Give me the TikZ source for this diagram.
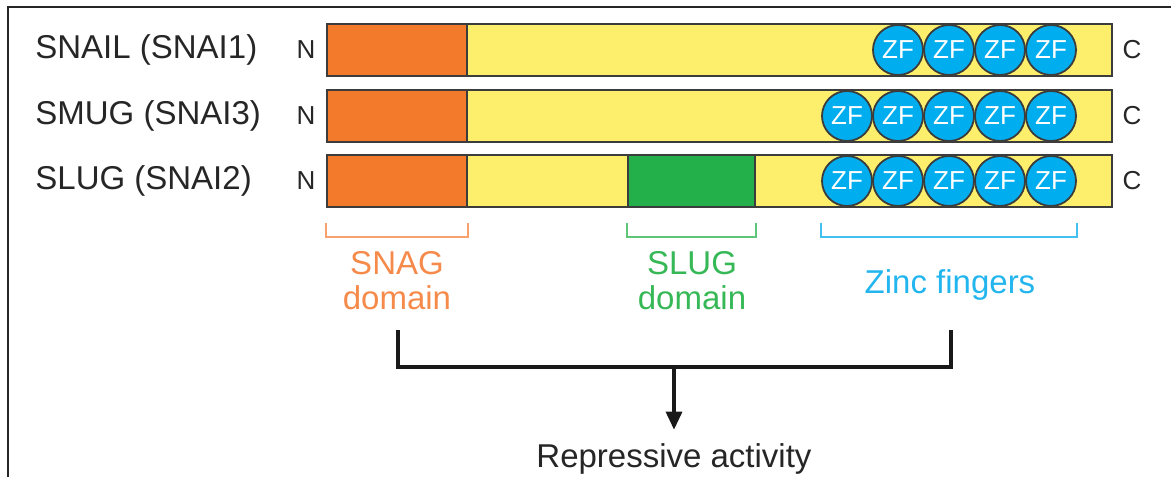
\documentclass[tikz,border=0pt]{standalone}
\usepackage{fontspec}
\setmainfont{Liberation Sans}
\usepackage{xcolor}
\usetikzlibrary{positioning,shapes,arrows.meta,calc}

\definecolor{snagorange}{HTML}{F37A2B}
\definecolor{baryellow}{HTML}{FDEF6C}
\definecolor{sluggreen}{HTML}{23B04B}
\definecolor{zfblue}{HTML}{00AEEF}
\definecolor{linegray}{HTML}{3C3C3C}
\definecolor{txtgray}{HTML}{262626}
\definecolor{snagtext}{HTML}{F58A4A}
\definecolor{slugtext}{HTML}{37B857}
\definecolor{zinctext}{HTML}{22B5EE}

\begin{document}
\begin{tikzpicture}
            [x=0.5pt,y=-0.5pt,every node/.style={inner sep=0pt, text=txtgray},
             bar/.style={draw=linegray, line width=0.9pt, fill=baryellow, minimum width=392.5pt, minimum height=26pt},
             snag/.style={draw=linegray, line width=0.9pt, fill=snagorange, minimum width=70pt, minimum height=26pt, anchor=west},
             slug/.style={draw=linegray, line width=0.9pt, fill=sluggreen, minimum width=63.5pt, minimum height=26pt, anchor=west},
             zf/.style={circle, draw=linegray, line width=0.9pt, fill=zfblue, minimum size=25pt, text=white, font=\fontsize{13}{13}\selectfont},
             protname/.style={anchor=west, font=\fontsize{16.5}{18}\selectfont},
             term/.style={font=\fontsize{13}{13}\selectfont},
             domlabel/.style={align=center, font=\fontsize{16.5}{17.5}\selectfont},
             joinline/.style={line width=1.6pt, draw=black!90}]
            \useasboundingbox (0,0) rectangle (1171,477);
            \draw[line width=1pt, black!85] (8,477) -- (8,7) -- (1171,7);

            \node[bar] (bar1) at (719.5,50) {};
            \node[bar] (bar2) at (719.5,116) {};
            \node[bar] (bar3) at (719.5,181) {};
            \node[snag] (snag1) at (bar1.west) {};
            \node[snag] (snag2) at (bar2.west) {};
            \node[snag] (snag3) at (bar3.west) {};
            \node[slug] (slug3) at ([xshift=150.5pt]bar3.west) {};

            \foreach \k/\x in {2/898, 3/949, 4/1000, 5/1051}
            \node[zf] (zf1\k) at (\x,50) {ZF};
            \foreach \r/\y in {2/116, 3/181}
            \foreach \k/\x in {1/847, 2/898, 3/949, 4/1000, 5/1051}
            \node[zf] (zf\r\k) at (\x,\y) {ZF};

            \node[protname] (p1) at (35,50) {SNAIL (SNAI1)};
            \node[protname] (p2) at (35,116) {SMUG (SNAI3)};
            \node[protname] (p3) at (35,181) {SLUG (SNAI2)};
            \foreach \r/\y in {1/50, 2/116, 3/181} {
            \node[term] (nt\r) at (306,\y) {N};
            \node[term] (ct\r) at (1132,\y) {C};
            }

            \coordinate (sl) at ($(snag3.south west)+(0,15)$);
            \coordinate (sr) at ($(snag3.south east)+(0,15)$);
            \coordinate (gl) at ($(slug3.south west)+(0,15)$);
            \coordinate (gr) at ($(slug3.south east)+(0,15)$);
            \coordinate (zl) at ($(zf31.west |- bar3.south)+(0,15)$);
            \coordinate (zr) at ($(zf35.east |- bar3.south)+(0,15)$);
            \draw[line width=1pt, snagtext!80] (sl) -- ++(0,14) -| (sr);
            \draw[line width=1pt, slugtext!80] (gl) -- ++(0,14) -| (gr);
            \draw[line width=1pt, zinctext!85] (zl) -- ++(0,14) -| (zr);

            \node[domlabel, text=snagtext] (snaglbl) at (397,281) {SNAG\\domain};
            \node[domlabel, text=slugtext] (sluglbl) at (692,281) {SLUG\\domain};
            \node[domlabel, text=zinctext] (zinclbl) at (950,285) {Zinc fingers};
            \node[font=\fontsize{16.5}{18}\selectfont, anchor=base, inner ysep=6.5pt] (rep) at (674,467) {Repressive activity};

            \coordinate (jl) at (398,330);
            \coordinate (jr) at (951,330);
            \coordinate (jm) at (674,367);
            \draw[joinline] (jl) |- (jm) -| (jr);
            \draw[joinline, -{Triangle[length=9pt,width=8pt]}] (jm) -- (rep.north);
          \end{tikzpicture}
\end{document}
